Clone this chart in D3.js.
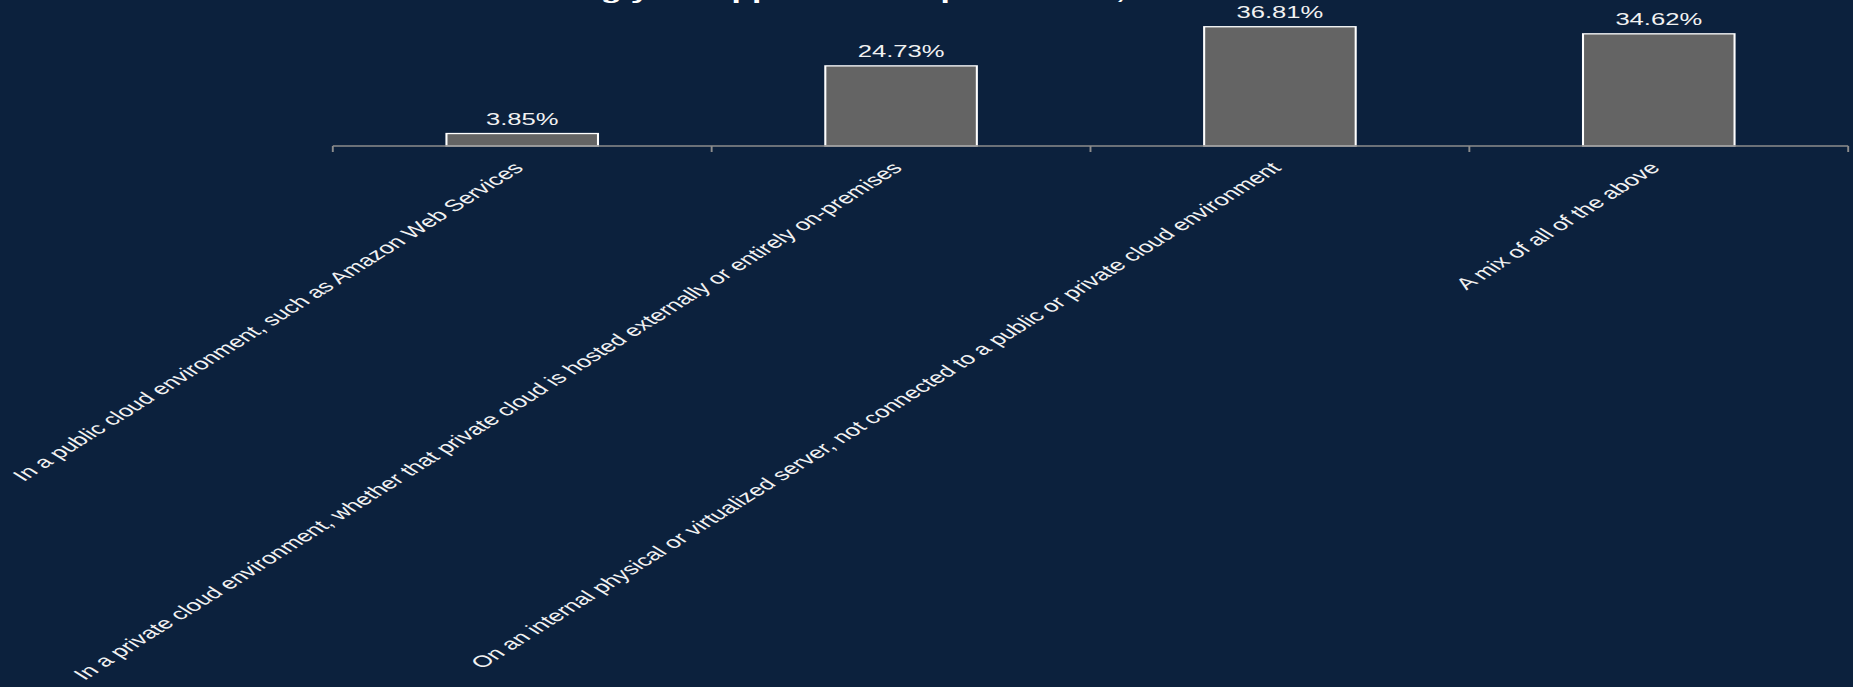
<!DOCTYPE html>
<html>
<head>
<meta charset="utf-8">
<script src="https://cdn.jsdelivr.net/npm/d3@7"></script>
<style>
  html, body { margin: 0; padding: 0; background: #0c213d; overflow: hidden; }
  svg { display: block; font-family: "Liberation Sans", Arial, sans-serif; }
</style>
</head>
<body>
<script>
var categories = [
  'In a public cloud environment, such as Amazon Web Services',
  'In a private cloud environment, whether that private cloud is hosted externally or entirely on-premises',
  'On an internal physical or virtualized server, not connected to a public or private cloud environment',
  'A mix of all of the above'
];
var values = [3.85, 24.73, 36.81, 34.62];
var title = 'Considering your app hosted in production, where does it live?';

// the picture is stretched sideways, so draw in a narrower box and let the viewBox stretch it
var outerWidth = 1853;
var height = 687;
var stretch = 1.6;
var width = outerWidth / stretch;

var svg = d3
  .select('body')
  .append('svg')
  .attr('width', outerWidth)
  .attr('height', height)
  .attr('viewBox', `0 0 ${width} ${height}`)
  .attr('preserveAspectRatio', 'none');

var margin = { left: 208, right: 3, baseline: 146 };

var xOuter = d3
  .scaleBand()
  .domain(categories)
  .range([margin.left, width - margin.right]);

var x = d3
  .scaleBand()
  .domain(categories)
  .range([margin.left, width - margin.right])
  .paddingInner(0.6)
  .paddingOuter(0.3);

var y = d3.scaleLinear().domain([0, 40]).range([margin.baseline, margin.baseline - 129.6]);

// title, mostly cut off at the top like the original
svg
  .append('text')
  .attr('x', 266)
  .attr('y', -1)
  .attr('fill', '#ffffff')
  .attr('font-weight', 'bold')
  .attr('font-size', 21)
  .text(title);

// bars
svg
  .selectAll('.bar')
  .data(values)
  .enter()
  .append('rect')
  .attr('class', 'bar')
  .attr('x', function (d, i) {
    return x(categories[i]);
  })
  .attr('y', function (d) {
    return y(d);
  })
  .attr('width', x.bandwidth())
  .attr('height', function (d) {
    return y(0) - y(d);
  })
  .attr('fill', '#646464')
  .attr('stroke', '#ffffff')
  .attr('stroke-width', 1.3);

// value labels
svg
  .selectAll('.value')
  .data(values)
  .enter()
  .append('text')
  .attr('class', 'value')
  .attr('x', function (d, i) {
    return x(categories[i]) + x.bandwidth() / 2;
  })
  .attr('y', function (d) {
    return y(d) - 8.5;
  })
  .attr('text-anchor', 'middle')
  .attr('fill', '#f2f2f2')
  .attr('font-size', 16)
  .text(function (d) {
    return d.toFixed(2) + '%';
  });

// axis line with ticks at the band edges
var axis = svg.append('g').attr('class', 'axis');
axis
  .append('line')
  .attr('x1', xOuter.range()[0])
  .attr('x2', xOuter.range()[1])
  .attr('y1', y(0))
  .attr('y2', y(0))
  .attr('stroke', '#8c8c8c')
  .attr('stroke-width', 1.4);

var edges = categories.map(function (c) {
  return xOuter(c);
});
edges.push(xOuter.range()[1]);

axis
  .selectAll('.tick')
  .data(edges)
  .enter()
  .append('line')
  .attr('class', 'tick')
  .attr('x1', function (d) {
    return d;
  })
  .attr('x2', function (d) {
    return d;
  })
  .attr('y1', y(0))
  .attr('y2', y(0) + 6)
  .attr('stroke', '#8c8c8c')
  .attr('stroke-width', 1.2);

// category labels, rotated
axis
  .selectAll('.label')
  .data(categories)
  .enter()
  .append('text')
  .attr('class', 'label')
  .attr('transform', function (d) {
    return `translate(${x(d) + x.bandwidth() / 2 + 1.5},${y(0) + 23}) rotate(-45)`;
  })
  .attr('text-anchor', 'end')
  .attr('fill', '#f2f2f2')
  .attr('font-size', 16.2)
  .text(function (d) {
    return d;
  });
</script>
</body>
</html>
